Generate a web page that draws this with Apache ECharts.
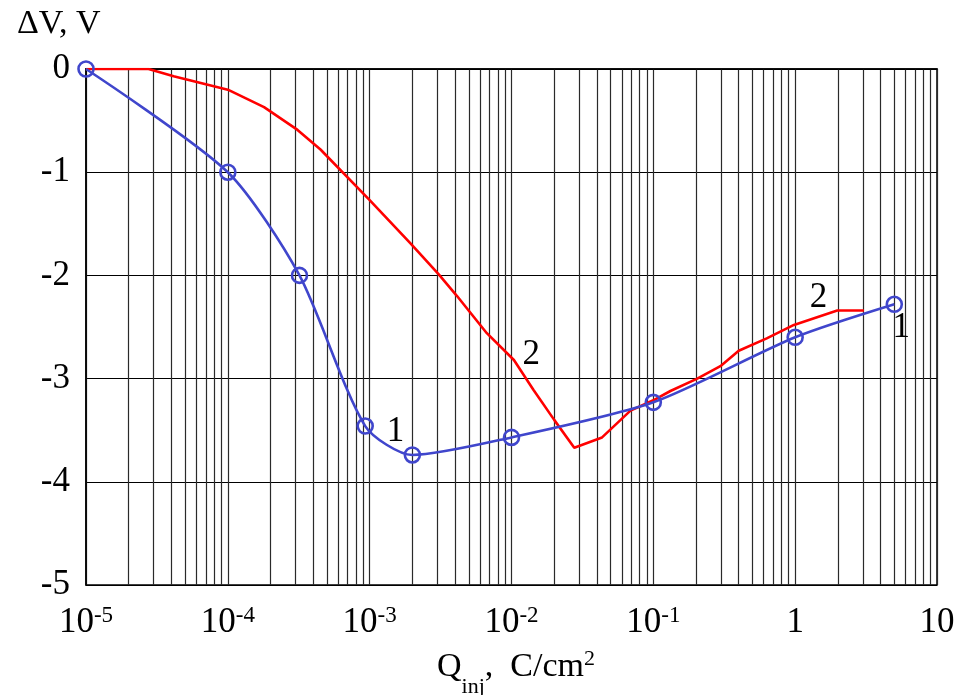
<!DOCTYPE html>
<html>
<head>
<meta charset="utf-8">
<script src="https://cdn.jsdelivr.net/npm/echarts@6/dist/echarts.min.js"></script>
<style>
  html, body { margin: 0; padding: 0; background: #fff; }
  #chart { width: 958px; height: 695px; }
</style>
</head>
<body>
<div id="chart"></div>
<script>
// curve 1 (blue, with circles)
const q1 = [1e-5, 1e-4, 3.2e-4, 9.3e-4, 2e-3, 1e-2, 0.1, 1, 5];
const dv1 = [0, -1, -2, -3.46, -3.74, -3.57, -3.23, -2.6, -2.28];

// curve 2 (red)
const q2 = [1e-5, 2.76e-5, 4.15e-5, 1e-4, 1.8e-4, 3.1e-4, 4.5e-4, 1e-3, 1.94e-3, 3.07e-3,
  4.13e-3, 6.7e-3, 1.04e-2, 1.43e-2, 2e-2, 2.77e-2, 4.35e-2, 6.9e-2, 0.1, 0.132,
  0.204, 0.297, 0.4, 0.63, 0.98, 1.98, 3.05];
const dv2 = [0, 0, -0.07, -0.2, -0.37, -0.59, -0.78, -1.27, -1.69, -1.99,
  -2.2, -2.56, -2.82, -3.11, -3.4, -3.67, -3.57, -3.31, -3.21, -3.12,
  -3.0, -2.88, -2.73, -2.61, -2.48, -2.34, -2.34];

// x tick labels (decades)
const xTicks = [1e-5, 1e-4, 1e-3, 1e-2, 1e-1, 1, 10];
const xTickLabels = ['{b|10}{s|-5}', '{b|10}{s|-4}', '{b|10}{s|-3}', '{b|10}{s|-2}', '{b|10}{s|-1}', '{b|1}', '{b|10}'];

// curve number labels, in data units
const notes1 = [{ q: 1.52e-3, v: -3.52, text: '1' }, { q: 5.6, v: -2.51, text: '1' }];
const notes2 = [{ q: 1.38e-2, v: -2.77, text: '2' }, { q: 1.46, v: -2.22, text: '2' }];

const FONT = '"Liberation Serif", "DejaVu Serif", serif';
const BLUE = '#4046cc';
const RED = '#ff0000';

// grid lines at 1..9 of every decade
function minorValues() {
  const out = [];
  for (let d = -5; d < 1; d++) {
    for (let m = 1; m <= 9; m++) out.push(Number((m * Math.pow(10, d)).toPrecision(6)));
  }
  out.push(10);
  return out;
}

function pairs(xs, ys) {
  return xs.map((x, i) => [x, ys[i]]);
}

function notePoints(list) {
  return list.map((n) => ({ coord: [n.q, n.v], value: n.text }));
}

function tickLabel(v) {
  const i = xTicks.findIndex((t) => Math.abs(Math.log10(t) - Math.log10(v)) < 0.01);
  return i >= 0 ? xTickLabels[i] : '';
}

const noteStyle = {
  symbol: 'circle',
  symbolSize: 0,
  label: { show: true, position: 'inside', formatter: '{c}', color: '#000', fontFamily: FONT, fontSize: 35 },
};

const chart = echarts.init(document.getElementById('chart'), null, { renderer: 'canvas' });

chart.setOption({
  backgroundColor: '#fff',
  animation: false,
  grid: { left: 86, right: 21, top: 69, bottom: 110, show: true, borderColor: '#000', borderWidth: 1.5, backgroundColor: 'transparent' },
  xAxis: {
    type: 'log',
    logBase: 10,
    min: 1e-5,
    max: 10,
    axisLine: { show: true, lineStyle: { color: '#000', width: 1.5 } },
    axisTick: { show: false, customValues: minorValues() },
    splitLine: { show: true, lineStyle: { color: '#2a2a2a', width: 1.2 } },
    axisLabel: {
      customValues: xTicks,
      margin: 19,
      formatter: tickLabel,
      rich: {
        b: { fontFamily: FONT, fontSize: 35, lineHeight: 38, color: '#000' },
        s: { fontFamily: FONT, fontSize: 23, lineHeight: 23, verticalAlign: 'top', color: '#000' },
      },
    },
  },
  yAxis: {
    type: 'value',
    min: -5,
    max: 0,
    interval: 1,
    axisLine: { show: true, lineStyle: { color: '#000', width: 1.5 } },
    axisTick: { show: false },
    splitLine: { show: true, lineStyle: { color: '#000', width: 1.2 } },
    axisLabel: { margin: 16, color: '#000', fontFamily: FONT, fontSize: 35 },
  },
  graphic: [
    {
      type: 'text',
      left: 17,
      top: 7,
      style: { text: 'ΔV, V', font: '34px ' + FONT, fill: '#000' },
    },
    {
      type: 'text',
      left: 437,
      top: 648,
      style: {
        text: '{q|Q}{i|inj}{q|,  C/cm}{p|2}',
        rich: {
          q: { fontFamily: FONT, fontSize: 34, lineHeight: 38, fill: '#000' },
          i: { fontFamily: FONT, fontSize: 22, lineHeight: 22, verticalAlign: 'bottom', padding: [0, 0, -12, 0], fill: '#000' },
          p: { fontFamily: FONT, fontSize: 22, lineHeight: 22, verticalAlign: 'top', fill: '#000' },
        },
      },
    },
  ],
  series: [
    {
      name: '2',
      type: 'line',
      data: pairs(q2, dv2),
      showSymbol: false,
      lineStyle: { color: RED, width: 2.6 },
      z: 3,
      markPoint: Object.assign({ data: notePoints(notes2) }, noteStyle),
    },
    {
      name: '1',
      type: 'line',
      data: pairs(q1, dv1),
      smooth: 0.25,
      symbol: 'circle',
      symbolSize: 15,
      itemStyle: { color: 'transparent', borderColor: BLUE, borderWidth: 2.6 },
      lineStyle: { color: BLUE, width: 2.6 },
      z: 4,
      markPoint: Object.assign({ data: notePoints(notes1) }, noteStyle),
    },
  ],
});
</script>
</body>
</html>
